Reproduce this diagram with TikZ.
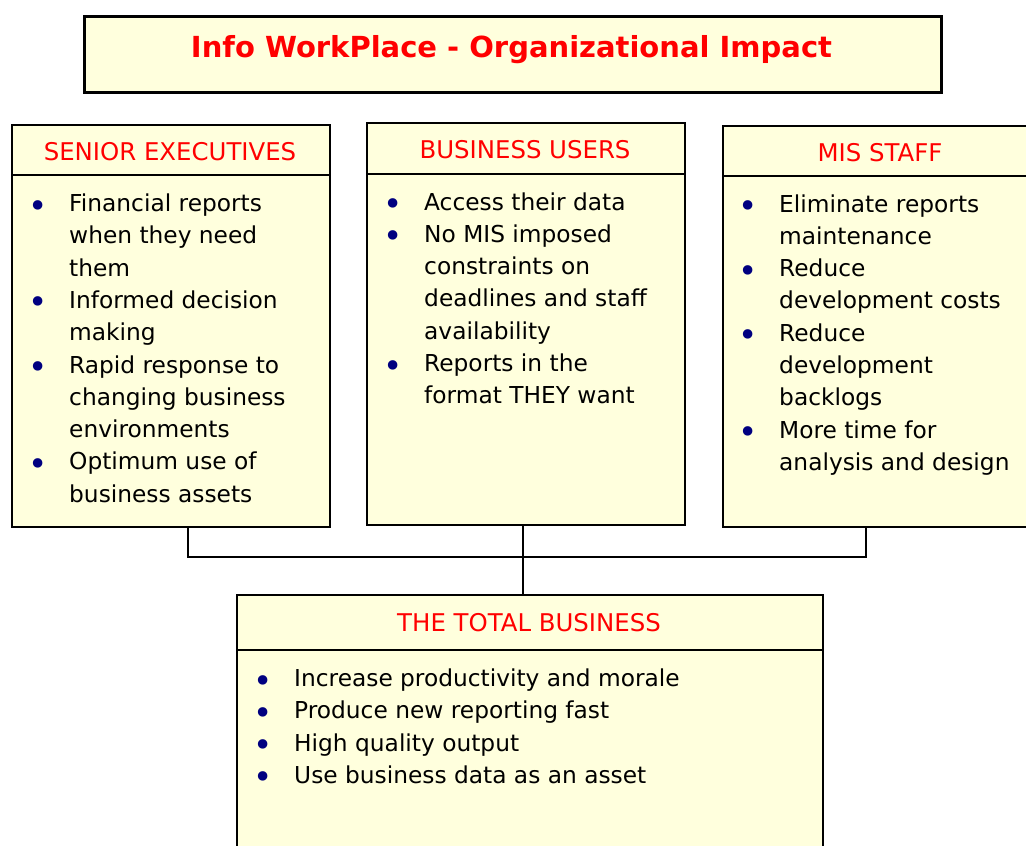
\documentclass[tikz,border=0pt]{standalone}
\usepackage{fontspec}
\setmainfont{DejaVu Sans}
\definecolor{boxfill}{HTML}{FFFFDD}
\definecolor{bulblue}{HTML}{000080}
\definecolor{hdred}{HTML}{FF0000}
\newcommand\bulitem{\llap{\makebox[0pt]{\textcolor{bulblue}{\raisebox{-5.5pt}{\scalebox{1.4}{•}}}}\hspace{31pt}}}
\tikzset{
  box/.style={draw=black, line width=2pt, fill=boxfill, rectangle, inner sep=0pt, anchor=north west},
  titlebox/.style={box, line width=2.6pt},
  sep/.style={draw=black, line width=2pt},
  conn/.style={draw=black, line width=1.6pt},
  hdr/.style={anchor=base, inner sep=0pt, text=hdred, font=\fontsize{24.4}{29}\selectfont},
  ttl/.style={anchor=base, inner sep=0pt, text=hdred, font=\fontsize{29}{35}\selectfont\bfseries},
  bodytext/.style={anchor=base west, inner sep=0pt, font=\fontsize{23.3}{32.3}\selectfont}
}
\begin{document}
\begin{tikzpicture}[x=1pt,y=-1pt]
\useasboundingbox (0,0) rectangle (1026,846);
\clip (0,0) rectangle (1026,846);
% title
\node[titlebox, minimum width=857pt, minimum height=76pt] (tbox) at (83,15) {};
\node[ttl] (title) at (511.5,57) {Info WorkPlace - Organizational Impact};
% boxes
\node[box, minimum width=318pt, minimum height=402pt] (sen) at (11,124) {};
\node[box, minimum width=318pt, minimum height=402pt] (bus) at (366,122) {};
\node[box, minimum width=316pt, minimum height=401pt] (mis) at (722,125) {};
\node[box, minimum width=586pt, minimum height=270pt] (tot) at (236,594) {};
% separators
\coordinate (s1) at (0,175);
\coordinate (s2) at (0,173.5);
\coordinate (s3) at (0,175.5);
\coordinate (s4) at (0,650);
\draw[sep] (sen.west |- s1) -- (sen.east |- s1);
\draw[sep] (bus.west |- s2) -- (bus.east |- s2);
\draw[sep] (mis.west |- s3) -- (mis.east |- s3);
\draw[sep] (tot.west |- s4) -- (tot.east |- s4);
% headers
\node[hdr] (hsen) at (170,160) {SENIOR EXECUTIVES};
\node[hdr] (hbus) at (525,158.3) {BUSINESS USERS};
\node[hdr] (hmis) at (880,161.5) {MIS STAFF};
\node[hdr] (htot) at (529,631) {THE TOTAL BUSINESS};
% bodies
\node[bodytext] (bsen) at (69,211.5) {\begin{tabular}[t]{@{}l@{}}
\bulitem Financial reports\\
when they need\\
them\\
\bulitem Informed decision\\
making\\
\bulitem Rapid response to\\
changing business\\
environments\\
\bulitem Optimum use of\\
business assets
\end{tabular}};
\node[bodytext] (bbus) at (424,210) {\begin{tabular}[t]{@{}l@{}}
\bulitem Access their data\\
\bulitem No MIS imposed\\
constraints on\\
deadlines and staff\\
availability\\
\bulitem Reports in the\\
format THEY want
\end{tabular}};
\node[bodytext] (bmis) at (779,212) {\begin{tabular}[t]{@{}l@{}}
\bulitem Eliminate reports\\
maintenance\\
\bulitem Reduce\\
development costs\\
\bulitem Reduce\\
development\\
backlogs\\
\bulitem More time for\\
analysis and design
\end{tabular}};
\node[bodytext] (btot) at (294,686.5) {\begin{tabular}[t]{@{}l@{}}
\bulitem Increase productivity and morale\\
\bulitem Produce new reporting fast\\
\bulitem High quality output\\
\bulitem Use business data as an asset
\end{tabular}};
% connectors
\coordinate (cl) at (188,557);
\coordinate (cm) at (523,557);
\coordinate (cr) at (866,557);
\draw[conn] (sen.south -| cl) -- (cl) -- (cr) -- (mis.south -| cr);
\draw[conn] (bus.south -| cm) -- (tot.north -| cm);
\end{tikzpicture}
\end{document}
